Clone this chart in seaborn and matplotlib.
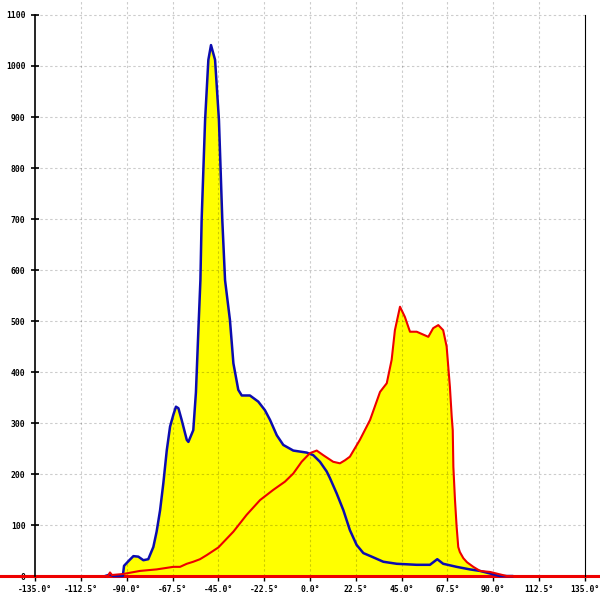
import matplotlib
matplotlib.use("Agg")
import matplotlib.pyplot as plt
import numpy as np
import seaborn as sns

sns.set_theme(style="white")
plt.rcParams["font.family"] = ["DejaVu Sans Mono", "DejaVu Sans"]
plt.rcParams["axes.unicode_minus"] = False

# ----------------------------------------------------------------------
# data (angle in degrees, count)
# ----------------------------------------------------------------------
blue_x = [-100.6, -98.2, -96.5, -91.9, -91.3, -88.7, -86.7, -84.3, -81.8, -79.4,
          -76.9, -75.3, -73.6, -72.0, -70.3, -68.7, -67.1, -65.8, -64.6, -63.0,
          -60.5, -59.7, -57.3, -56.0, -54.8, -53.8, -53.2, -51.5, -49.9, -48.6,
          -46.6, -44.7, -43.05, -41.7, -39.3, -37.6, -35.2, -33.5, -29.5, -25.4,
          -22.1, -19.6, -16.3, -13.1, -8.2, -1.6, 1.6, 4.9, 8.2, 9.8,
          13.1, 14.7, 16.4, 19.6, 22.9, 26.2, 30.3, 36.0, 42.6, 52.4,
          58.9, 62.5, 65.4, 72.0, 78.5, 83.5, 88.4, 93.3, 99.7]
blue_y = [0, 3, 0, 0, 20, 31, 39, 38, 31, 33,
          57, 87, 129, 182, 247, 293, 316, 332, 329, 306,
          267, 263, 286, 360, 482, 580, 698, 894, 1012, 1041,
          1012, 894, 698, 580, 502, 417, 365, 354, 354, 342,
          325, 306, 276, 257, 246, 242, 237, 224, 205, 192,
          162, 146, 129, 90, 61, 45, 38, 28, 24, 22,
          22, 33, 24, 18, 13, 10, 5, 0, 0]

red_x = [-155.0, -99.2, -98.2, -97.2, -91.7, -83.5, -75.3, -67.1, -63.8, -60.5,
         -57.3, -54.0, -50.7, -45.0, -37.6, -31.1, -24.5, -18.0, -12.3, -8.2,
         -4.1, 0.0, 3.3, 6.5, 11.4, 14.7, 17.2, 19.6, 24.5, 29.5,
         34.4, 37.7, 40.1, 41.7, 44.2, 46.6, 49.1, 52.4, 58.1, 60.5,
         63.0, 65.4, 67.1, 68.7, 69.6, 70.1, 70.4, 71.2, 72.0, 72.8,
         73.6, 75.3, 77.1, 80.2, 83.5, 88.4, 96.6, 145.0]
red_y = [0, 0, 7, 2, 4, 10, 13, 18, 18, 24,
         28, 33, 41, 56, 87, 120, 149, 169, 185, 201,
         224, 241, 246, 237, 224, 221, 227, 234, 267, 306,
         361, 378, 424, 482, 528, 508, 479, 479, 469, 486,
         492, 482, 450, 371, 312, 286, 214, 149, 97, 57,
         47, 35, 27, 18, 10, 8, 0, 0]

x_ticks = [-135.0, -112.5, -90.0, -67.5, -45.0, -22.5, 0.0, 22.5, 45.0, 67.5, 90.0, 112.5, 135.0]
x_labels = [f"{v:.1f}°" for v in x_ticks]
y_ticks = [0, 100, 200, 300, 400, 500, 600, 700, 800, 900, 1000, 1100]

# ----------------------------------------------------------------------
# figure: axes fill the whole canvas, spines placed at data positions
# ----------------------------------------------------------------------
fig = plt.figure(figsize=(6, 6), dpi=100)
ax = fig.add_axes([0, 0, 1, 1])
ax.set_xlim(-152.2, 142.4)
ax.set_ylim(-47.0, 1129.4)

ax.fill_between(blue_x, 0, blue_y, color="#ffff00", lw=0, zorder=1)
ax.fill_between(red_x, 0, red_y, color="#ffff00", lw=0, zorder=1)

# dashed grid, drawn over the fill
grid_kw = dict(color="black", alpha=0.2, lw=0.8, ls=(0, (2.2, 2.2)), zorder=2)
ax.hlines(y_ticks[1:], -135, 135, **grid_kw)
ax.vlines(x_ticks[1:-1], 0, 1129.4, **grid_kw)

sns.lineplot(x=blue_x, y=blue_y, sort=False, estimator=None, color="#0c0cb0",
             lw=1.8, ax=ax, zorder=4)
sns.lineplot(x=red_x, y=red_y, sort=False, estimator=None, color="#ee0000",
             lw=1.5, ax=ax, zorder=5)

ax.spines["top"].set_visible(False)
ax.spines["left"].set_position(("data", -135))
ax.spines["left"].set_bounds(0, 1100)
ax.spines["right"].set_position(("data", 135))
ax.spines["right"].set_bounds(0, 1100)
ax.spines["bottom"].set_position(("data", 0))
ax.spines["bottom"].set_color("#ee0000")
ax.spines["bottom"].set_linewidth(2.2)
ax.spines["left"].set_linewidth(1.2)
ax.spines["right"].set_linewidth(0.8)
for side in ["left", "right"]:
    ax.spines[side].set_color("black")
    ax.spines[side].set_zorder(6)

ax.set_xticks(x_ticks)
ax.set_xticklabels(x_labels)
ax.set_yticks(y_ticks)
ax.set_yticklabels([str(v) for v in y_ticks])
ax.tick_params(axis="x", direction="out", length=3.5, width=1.0, color="black",
               pad=3, labelsize=5.8, bottom=True)
ax.tick_params(axis="y", direction="inout", length=5.8, width=1.2, color="black",
               pad=4, labelsize=5.8, left=True, right=False)
for lbl in ax.get_xticklabels() + ax.get_yticklabels():
    lbl.set_fontweight("bold")
    lbl.set_color("black")

fig.savefig("out.png", dpi=100)
